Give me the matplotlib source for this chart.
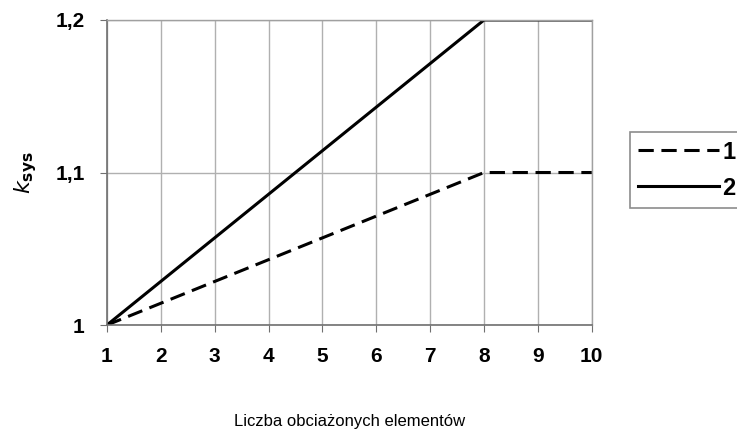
import matplotlib
matplotlib.use('Agg')
import matplotlib.pyplot as plt

plt.rcParams['font.family'] = ['Liberation Sans', 'DejaVu Sans']

x_vals = [1, 8, 10]
series_1 = [1.0, 1.1, 1.1]
series_2 = [1.0, 1.2, 1.2]
labels = ['1', '2']
x_ticks = list(range(1, 11))
y_ticks = [1.0, 1.1, 1.2]
y_tick_labels = ['1', '1,1', '1,2']

fig = plt.figure(figsize=(7.37, 4.34), dpi=100)
ax = fig.add_axes([0.145, 0.251, 0.658, 0.703])

ax.plot(x_vals, series_1, color='black', linestyle=(0, (5, 2.5)), linewidth=2.2, label=labels[0])
ax.plot(x_vals, series_2, color='black', linestyle='-', linewidth=2.2, label=labels[1])

ax.set_xlim(1, 10)
ax.set_ylim(1.0, 1.2)
ax.set_xticks(x_ticks)
ax.set_xticklabels([str(t) for t in x_ticks], fontsize=15, fontweight='bold')
ax.set_yticks(y_ticks)
ax.set_yticklabels(y_tick_labels, fontsize=15, fontweight='bold')
ax.grid(True, color='#b0b0b0', linewidth=1.0)
ax.set_axisbelow(True)
for s in ['top', 'right']:
    ax.spines[s].set_color('#a0a0a0')
    ax.spines[s].set_linewidth(1.0)
for s in ['left', 'bottom']:
    ax.spines[s].set_color('#707070')
    ax.spines[s].set_linewidth(1.2)
ax.tick_params(axis='both', direction='out', length=5, color='#707070', pad=11)

ax.set_xlabel('Liczba obciażonych elementów', fontsize=12, labelpad=34)
ax.set_ylabel(r'$\mathit{k}_{\mathbf{sys}}$', fontsize=16, labelpad=12)

leg = fig.legend(loc='upper left', bbox_to_anchor=(0.855, 0.695), frameon=True,
                 fancybox=False, edgecolor='#707070', handlelength=3.4,
                 prop={'size': 17, 'weight': 'bold'}, borderpad=0.35,
                 handletextpad=0.15, labelspacing=0.55, borderaxespad=0)
leg.get_frame().set_linewidth(1.2)

fig.savefig('out.png', dpi=100)
